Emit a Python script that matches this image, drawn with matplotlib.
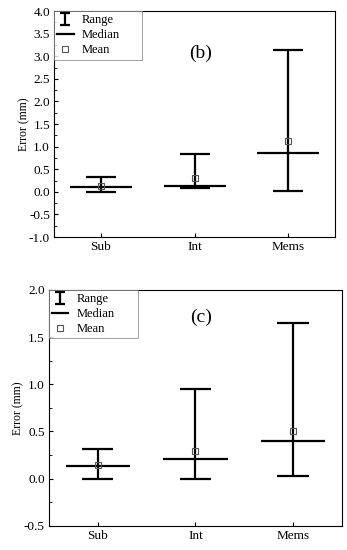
import matplotlib
matplotlib.use("Agg")
import matplotlib.pyplot as plt
from matplotlib.lines import Line2D
from matplotlib.path import Path
from matplotlib.ticker import MultipleLocator, FormatStrFormatter

plt.rcParams['font.family'] = ['Liberation Serif', 'DejaVu Serif']

cats = ["Sub", "Int", "Mems"]

# panel (b)
b_lo = [0.0, 0.08, 0.02]
b_hi = [0.33, 0.84, 3.13]
b_med = [0.10, 0.14, 0.85]
b_mean = [0.13, 0.30, 1.12]

# panel (c)
c_lo = [0.0, 0.0, 0.03]
c_hi = [0.31, 0.95, 1.65]
c_med = [0.13, 0.21, 0.40]
c_mean = [0.14, 0.29, 0.50]

cap_w = 0.16
med_w = 0.33

# I-beam marker for the "Range" legend entry
ibeam = Path([(-0.8, 1), (0.8, 1), (0, 1), (0, -1), (-0.8, -1), (0.8, -1)],
             [Path.MOVETO, Path.LINETO, Path.MOVETO, Path.LINETO, Path.MOVETO, Path.LINETO])


def panel(ax, lo, hi, med, mean, ylim, label, label_y, ylab_x, leg_w):
    x = [1, 2, 3]
    ax.vlines(x, lo, hi, color='k', lw=1.6)
    ax.hlines(lo, [i - cap_w for i in x], [i + cap_w for i in x], color='k', lw=1.6)
    ax.hlines(hi, [i - cap_w for i in x], [i + cap_w for i in x], color='k', lw=1.6)
    ax.hlines(med, [i - med_w for i in x], [i + med_w for i in x], color='k', lw=1.6)
    ax.plot(x, mean, ls='none', marker='s', ms=4.5, mfc='none', mec='#555555', mew=0.8)

    ax.set_xlim(0.5, 3.5)
    ax.set_ylim(*ylim)
    ax.set_xticks(x)
    ax.set_xticklabels(cats)
    ax.yaxis.set_major_locator(MultipleLocator(0.5))
    ax.yaxis.set_minor_locator(MultipleLocator(0.25))
    ax.yaxis.set_major_formatter(FormatStrFormatter('%.1f'))
    ax.tick_params(direction='in', labelsize=9.5, length=3, width=0.8, pad=3)
    ax.tick_params(which='minor', direction='in', length=2, width=0.6)
    ax.set_ylabel("Error (mm)", fontsize=8.5)
    ax.yaxis.set_label_coords(ylab_x, 0.5)
    for s in ax.spines.values():
        s.set_linewidth(0.8)

    ax.text(2.06, label_y, label, fontsize=14, ha='center', va='center')

    handles = [
        Line2D([], [], ls='none', marker=ibeam, ms=8.5, mfc='none', mec='k', mew=1.6),
        Line2D([], [], color='k', lw=1.6),
        Line2D([], [], ls='none', marker='s', ms=4.5, mfc='none', mec='#555555', mew=0.8),
    ]
    leg = ax.legend(handles, ["Range", "Median", "Mean"], loc='upper left',
                    bbox_to_anchor=(0, 1, leg_w, 0), mode='expand',
                    fontsize=9, frameon=True, fancybox=False, borderaxespad=0,
                    handlelength=1.3, handletextpad=0.65, labelspacing=0.25,
                    borderpad=0.25)
    leg.get_frame().set_edgecolor('#777777')
    leg.get_frame().set_linewidth(0.6)


fig = plt.figure(figsize=(3.47, 5.5), dpi=100)
ax1 = fig.add_axes([0.156, 0.569, 0.810, 0.411])
ax2 = fig.add_axes([0.141, 0.044, 0.844, 0.429])

panel(ax1, b_lo, b_hi, b_med, b_mean, (-1.0, 4.0), "(b)", 3.07, -0.086, 0.313)
panel(ax2, c_lo, c_hi, c_med, c_mean, (-0.5, 2.0), "(c)", 1.71, -0.084, 0.304)

fig.savefig("out.png", dpi=100)
